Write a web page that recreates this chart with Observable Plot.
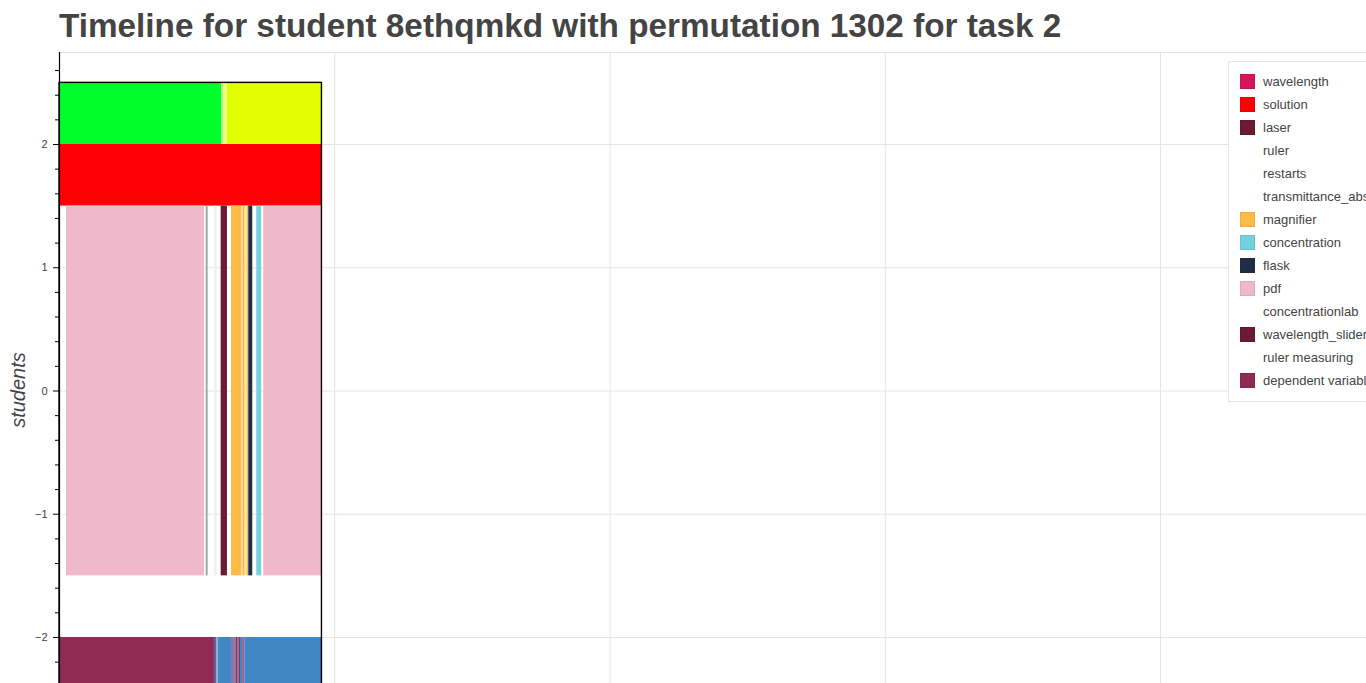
<!DOCTYPE html>
<html>
<head>
<meta charset="utf-8">
<script src="https://cdn.jsdelivr.net/npm/d3@7"></script>
<script src="https://cdn.jsdelivr.net/npm/@observablehq/plot@0.6"></script>
<style>
  html, body { margin: 0; padding: 0; background: #fff; overflow: hidden; width: 1366px; height: 683px; }
  body { position: relative; font-family: "Liberation Sans", Arial, Helvetica, sans-serif; }
  #title { position: absolute; left: 59px; top: 8.8px; font-size: 33.3px; line-height: 33.3px; font-weight: bold; color: #444; white-space: nowrap; margin: 0; }
  #chart { position: absolute; left: 0; top: 45px; width: 1400px; height: 700px; }
  #chart svg { max-width: none !important; width: 1400px !important; height: 700px !important; }
  #ylabel { position: absolute; left: 18px; top: 389.5px; transform: translate(-50%, -50%) rotate(-90deg); font-size: 20px; line-height: 20px; font-style: italic; color: #444; white-space: nowrap; }
  #legend { position: absolute; left: 1228px; top: 61px; width: 200px; height: 339px; border: 1px solid #e6e6e6; background: #fff; }
  .entry { position: absolute; left: 0; height: 15px; }
  .sw { position: absolute; left: 11px; top: 0; width: 15px; height: 15px; box-sizing: border-box; }
  .lab { position: absolute; left: 34px; top: -0.5px; font-size: 13px; line-height: 15px; color: #444; white-space: nowrap; }
</style>
</head>
<body>
<div id="title">Timeline for student 8ethqmkd with permutation 1302 for task 2</div>
<div id="chart"></div>
<div id="ylabel">students</div>
<div id="legend"></div>
<script>
// ---- data ----
const legendCategories = ["wavelength", "solution", "laser", "ruler", "restarts", "transmittance_absorbance",
  "magnifier", "concentration", "flask", "pdf", "concentrationlab", "wavelength_slider", "ruler measuring", "dependent variable"];
const legendColors = ["#d8155a", "#fe0006", "#6b1b33", "#ffffff", "#ffffff", "#ffffff",
  "#ffbb46", "#73d2de", "#1e2f45", "#efb8cb", "#ffffff", "#6b1b33", "#ffffff", "#8f2b55"];

const otherCategories = ["phase A", "phase B", "variable B", "overlap A/B", "overlap B/A",
  "overlap ruler", "overlap restarts", "overlap magnifier 1", "overlap magnifier 2",
  "overlap variable 1", "overlap variable 2", "overlap variable 3", "overlap variable 4", "overlap variable 5"];
const otherColors = ["#00ff2a", "#e1ff00", "#4187c5", "#a8ff7c", "#ecff84",
  "#9ea3aa", "#eeeeee", "#ffd998", "#ffe3b5",
  "#6c5c96", "#92bbe2", "#8a78a6", "#6d7fb0", "#a0668e"];

// student rows: lower and upper bound on the "students" axis
const rowLow  = [2, 1.5, -1.5, -2.5];
const rowHigh = [2.5, 2, 1.5, -2];

// segments per row: [category, start, end] (time units)
const rowSegments = [
  [["phase A", 0, 58.95], ["overlap A/B", 58.95, 59.68], ["overlap B/A", 59.68, 60.92], ["phase B", 60.92, 95.35]],
  [["solution", 0, 95.35]],
  [["pdf", 2.54, 52.67], ["overlap ruler", 53.29, 54.0], ["overlap restarts", 56.4, 57.27],
   ["laser", 58.73, 61.02], ["magnifier", 62.48, 66.11], ["overlap magnifier 1", 66.11, 66.73],
   ["magnifier", 66.73, 67.45], ["overlap magnifier 2", 67.45, 68.18], ["magnifier", 68.18, 68.76],
   ["flask", 68.76, 70.21], ["concentration", 71.67, 73.48], ["pdf", 74.2, 95.35]],
  [["dependent variable", 0, 56.3], ["overlap variable 1", 56.3, 57.27], ["overlap variable 2", 57.27, 57.63],
   ["variable B", 57.63, 62.48], ["overlap variable 3", 62.48, 64.19], ["dependent variable", 64.19, 64.92],
   ["overlap variable 4", 64.92, 65.38], ["dependent variable", 65.38, 65.75], ["variable B", 65.75, 66.47],
   ["overlap variable 5", 66.47, 67.31], ["variable B", 67.31, 95.35]]
];

const yMajorTicks = [-2, -1, 0, 1, 2];
const xGridTicks = [100, 200, 300, 400];

// ---- build table ----
const segments = rowSegments.flatMap((segs, i) =>
  segs.map(([category, start, end]) => ({category, start, end, low: rowLow[i], high: rowHigh[i]})));
const frameBox = [{start: d3.min(segments, d => d.start), end: d3.max(segments, d => d.end),
  low: -3, high: d3.max(rowHigh)}];

const minorTicks = d3.range(-14, 14).map(i => i / 5).filter(v => !yMajorTicks.includes(v));
const intFormat = d3.format("d");

const chart = Plot.plot({
  width: 1400,
  height: 700,
  marginLeft: 59,
  marginRight: 0,
  marginTop: 7,
  marginBottom: 0,
  style: {fontFamily: "'Liberation Sans', Arial, Helvetica, sans-serif", background: "transparent", maxWidth: "none"},
  x: {domain: [0, 487.2], axis: null},
  y: {domain: [-2.8765, 2.7465], axis: null},
  color: {domain: [...legendCategories, ...otherCategories], range: [...legendColors, ...otherColors]},
  marks: [
    Plot.frame({stroke: "#e5e5e5"}),
    Plot.gridX({ticks: xGridTicks, stroke: "#e5e5e5", strokeOpacity: 1}),
    Plot.gridY({ticks: yMajorTicks, stroke: "#e5e5e5", strokeOpacity: 1}),
    Plot.rect(segments, {x1: "start", x2: "end", y1: "low", y2: "high", fill: "category"}),
    Plot.rect(frameBox, {x1: "start", x2: "end", y1: "low", y2: "high", fill: "none", stroke: "black", strokeWidth: 1.4}),
    Plot.ruleX([0], {stroke: "black", strokeWidth: 1.2}),
    Plot.axisY(minorTicks, {tickSize: 4, tickFormat: () => "", label: null, stroke: "black"}),
    Plot.axisY(yMajorTicks, {tickSize: 6, tickPadding: 6, fontSize: 11, label: null, stroke: "black", fill: "#444", tickFormat: d => intFormat(d)})
  ]
});
document.getElementById("chart").appendChild(chart);

// ---- legend ----
const legend = document.getElementById("legend");
legendCategories.forEach((c, i) => {
  const e = document.createElement("div");
  e.className = "entry";
  e.style.top = (12 + 23 * i) + "px";
  const sw = document.createElement("div");
  sw.className = "sw";
  sw.style.background = legendColors[i];
  if (legendColors[i] !== "#ffffff") sw.style.border = "1px solid " + d3.color(legendColors[i]).darker(0.4).copy({opacity: 0.6}).formatRgb();
  const t = document.createElement("div");
  t.className = "lab";
  t.textContent = c;
  e.appendChild(sw); e.appendChild(t);
  legend.appendChild(e);
});
</script>
</body>
</html>
